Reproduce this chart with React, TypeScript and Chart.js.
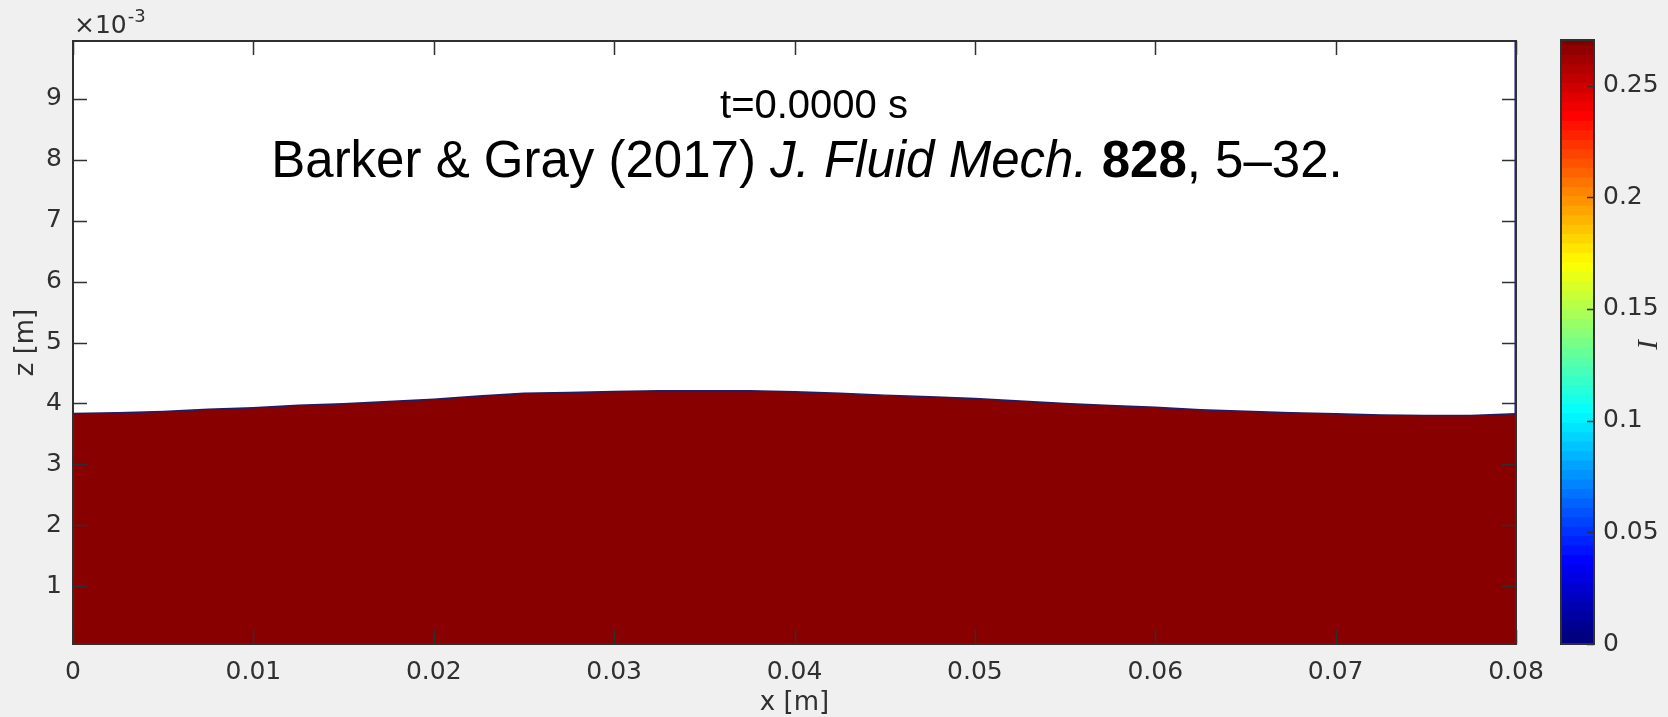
import React, { useEffect, useRef } from 'react';
import { Chart, registerables } from 'chart.js';

Chart.register(...registerables);

// Free-surface height z(x) of the flowing layer at t = 0
const SURFACE_X = [
  0, 0.0025, 0.005, 0.0075, 0.01, 0.0125, 0.015, 0.0175, 0.02, 0.0225, 0.025,
  0.0275, 0.03, 0.0325, 0.035, 0.0375, 0.04, 0.0425, 0.045, 0.0475, 0.05,
  0.0525, 0.055, 0.0575, 0.06, 0.0625, 0.065, 0.0675, 0.07, 0.0725, 0.075,
  0.0775, 0.08,
];
const SURFACE_Z = [
  0.003835, 0.003845, 0.003868, 0.003906, 0.00393, 0.00397, 0.003995, 0.00403,
  0.00407, 0.00412, 0.004165, 0.00418, 0.004196, 0.004206, 0.004206, 0.004206,
  0.00419, 0.004166, 0.004136, 0.004108, 0.004082, 0.00404, 0.004, 0.003965,
  0.003935, 0.003895, 0.00387, 0.003845, 0.00383, 0.00381, 0.0038, 0.0038,
  0.00383,
];

const X_MIN = 0;
const X_MAX = 0.08;
const Z_MIN = 0.00005;
const Z_MAX = 0.00995;

const X_TICKS = [0, 0.01, 0.02, 0.03, 0.04, 0.05, 0.06, 0.07, 0.08];
const X_TICK_LABELS = ['0', '0.01', '0.02', '0.03', '0.04', '0.05', '0.06', '0.07', '0.08'];
const Z_TICKS = [0.001, 0.002, 0.003, 0.004, 0.005, 0.006, 0.007, 0.008, 0.009];
const Z_TICK_LABELS = ['1', '2', '3', '4', '5', '6', '7', '8', '9'];

// Inertial number colour scale
const I_MIN = 0;
const I_MAX = 0.2704;
const I_TICKS = [0, 0.05, 0.1, 0.15, 0.2, 0.25];
const I_TICK_LABELS = ['0', '0.05', '0.1', '0.15', '0.2', '0.25'];
const COLOR_LEVELS = 64;

const TIME_LABEL = 't=0.0000 s';
const CITATION_PARTS = [
  { text: 'Barker & Gray (2017) ', style: '' },
  { text: 'J. Fluid Mech.', style: 'italic ' },
  { text: ' ', style: '' },
  { text: '828', style: 'bold ' },
  { text: ', 5\u201332.', style: '' },
];

const AXIS_COLOR = '#303030';
const FLOW_COLOR = '#880000';
const WALL_COLOR = '#14147a';
const SURFACE_LINE = '#1e1e66';
const TICK_FONT = { family: '"DejaVu Sans"', size: 25 };
const TITLE_FAMILY = '"Liberation Sans"';

function jet(t: number): string {
  const c = (v: number) => Math.round(255 * Math.max(0, Math.min(1, v)));
  return `rgb(${c(1.5 - Math.abs(4 * t - 3))},${c(1.5 - Math.abs(4 * t - 2))},${c(1.5 - Math.abs(4 * t - 1))})`;
}

const mainDecor = {
  id: 'mainDecor',
  beforeDatasetsDraw(chart: any) {
    const { ctx, chartArea: a } = chart;
    ctx.save();
    ctx.fillStyle = '#ffffff';
    ctx.fillRect(a.left, a.top, a.right - a.left, a.bottom - a.top);
    ctx.restore();
  },
  afterDraw(chart: any) {
    const { ctx, chartArea: a, scales } = chart;
    const tick = 14;
    ctx.save();
    ctx.strokeStyle = AXIS_COLOR;
    ctx.lineWidth = 1.5;
    ctx.beginPath();
    X_TICKS.forEach((v) => {
      const px = Math.round(scales.x.getPixelForValue(v)) + 0.5;
      ctx.moveTo(px, a.bottom);
      ctx.lineTo(px, a.bottom - tick);
      ctx.moveTo(px, a.top);
      ctx.lineTo(px, a.top + tick);
    });
    Z_TICKS.forEach((v) => {
      const py = Math.round(scales.y.getPixelForValue(v)) + 0.5;
      ctx.moveTo(a.left, py);
      ctx.lineTo(a.left + tick, py);
      ctx.moveTo(a.right, py);
      ctx.lineTo(a.right - tick, py);
    });
    ctx.stroke();
    ctx.lineWidth = 2;
    ctx.strokeRect(a.left, a.top, a.right - a.left, a.bottom - a.top);

    // exponent of the z axis
    ctx.fillStyle = AXIS_COLOR;
    ctx.textBaseline = 'alphabetic';
    ctx.textAlign = 'left';
    ctx.font = '25px "DejaVu Sans"';
    const base = '\u00d710';
    ctx.fillText(base, a.left + 1, 33);
    const bw = ctx.measureText(base).width;
    ctx.font = '18px "DejaVu Sans"';
    ctx.fillText('-3', a.left + 1 + bw + 1, 22);

    // axis titles
    ctx.font = '26px "DejaVu Sans"';
    ctx.textAlign = 'center';
    ctx.textBaseline = 'middle';
    ctx.fillText('x [m]', (a.left + a.right) / 2, 703);
    ctx.save();
    ctx.translate(26, (a.top + a.bottom) / 2);
    ctx.rotate(-Math.PI / 2);
    ctx.fillText('z [m]', 0, 0);
    ctx.restore();

    // annotations
    ctx.fillStyle = '#000000';
    ctx.textBaseline = 'alphabetic';
    ctx.font = `40px ${TITLE_FAMILY}`;
    ctx.textAlign = 'center';
    ctx.fillText(TIME_LABEL, 814, 118);

    const size = 51;
    ctx.textAlign = 'left';
    let total = 0;
    CITATION_PARTS.forEach((p) => {
      ctx.font = `${p.style}${size}px ${TITLE_FAMILY}`;
      total += ctx.measureText(p.text).width;
    });
    let cx = 807 - total / 2;
    CITATION_PARTS.forEach((p) => {
      ctx.font = `${p.style}${size}px ${TITLE_FAMILY}`;
      ctx.fillText(p.text, cx, 177);
      cx += ctx.measureText(p.text).width;
    });
    ctx.restore();
  },
};

const barDecor = {
  id: 'barDecor',
  afterDraw(chart: any) {
    const { ctx, chartArea: a, scales } = chart;
    ctx.save();
    ctx.strokeStyle = AXIS_COLOR;
    ctx.lineWidth = 1.5;
    ctx.beginPath();
    I_TICKS.forEach((v) => {
      const py = Math.round(scales.y.getPixelForValue(v)) + 0.5;
      ctx.moveTo(a.right, py);
      ctx.lineTo(a.right - 7, py);
    });
    ctx.stroke();
    ctx.lineWidth = 2;
    ctx.strokeRect(a.left, a.top, a.right - a.left, a.bottom - a.top);

    ctx.fillStyle = AXIS_COLOR;
    ctx.font = 'italic 29px "Liberation Serif"';
    ctx.textAlign = 'center';
    ctx.textBaseline = 'middle';
    ctx.translate(109, (a.top + a.bottom) / 2 + 3);
    ctx.rotate(-Math.PI / 2);
    ctx.fillText('I', 0, 0);
    ctx.restore();
  },
};

export default function App() {
  const mainRef = useRef<HTMLCanvasElement>(null);
  const barRef = useRef<HTMLCanvasElement>(null);

  useEffect(() => {
    const surface = SURFACE_X.map((x, i) => ({ x, y: SURFACE_Z[i] }));
    const wall = [
      { x: X_MAX, y: Z_MAX },
      { x: X_MAX, y: SURFACE_Z[SURFACE_Z.length - 1] },
    ];

    const main = new Chart(mainRef.current as HTMLCanvasElement, {
      type: 'line',
      data: {
        datasets: [
          {
            data: surface,
            borderColor: SURFACE_LINE,
            borderWidth: 1.5,
            backgroundColor: FLOW_COLOR,
            fill: 'start',
            pointRadius: 0,
            tension: 0,
          },
          {
            data: wall,
            borderColor: WALL_COLOR,
            borderWidth: 3,
            pointRadius: 0,
            fill: false,
          },
        ],
      },
      options: {
        responsive: false,
        animation: false,
        events: [],
        layout: { padding: { left: 0, right: 152, top: 41, bottom: 0 } },
        plugins: { legend: { display: false }, tooltip: { enabled: false } },
        scales: {
          x: {
            type: 'linear',
            min: X_MIN,
            max: X_MAX,
            grid: { display: false, drawTicks: false },
            border: { display: false },
            ticks: {
              font: TICK_FONT,
              color: AXIS_COLOR,
              padding: 13,
              maxRotation: 0,
              autoSkip: false,
              callback: (_v: any, i: number) => X_TICK_LABELS[i],
            },
            afterBuildTicks: (s: any) => {
              s.ticks = X_TICKS.map((value) => ({ value }));
            },
            afterFit: (s: any) => {
              s.height = 73;
            },
          },
          y: {
            type: 'linear',
            min: Z_MIN,
            max: Z_MAX,
            grid: { display: false, drawTicks: false },
            border: { display: false },
            ticks: {
              font: TICK_FONT,
              color: AXIS_COLOR,
              padding: 11,
              autoSkip: false,
              callback: (_v: any, i: number) => Z_TICK_LABELS[i],
            },
            afterBuildTicks: (s: any) => {
              s.ticks = Z_TICKS.map((value) => ({ value }));
            },
            afterFit: (s: any) => {
              s.width = 73;
            },
          },
        },
      },
      plugins: [mainDecor],
    } as any);

    const step = (I_MAX - I_MIN) / COLOR_LEVELS;
    const levels = Array.from({ length: COLOR_LEVELS }, (_, k) => k);
    const bar = new Chart(barRef.current as HTMLCanvasElement, {
      type: 'bar',
      data: {
        labels: ['I'],
        datasets: levels.map((k) => ({
          data: [[I_MIN + k * step, I_MIN + (k + 1.4) * step]],
          backgroundColor: jet(k / (COLOR_LEVELS - 1)),
          borderWidth: 0,
          barPercentage: 1,
          categoryPercentage: 1,
          grouped: false,
        })),
      },
      options: {
        responsive: false,
        animation: false,
        events: [],
        layout: { padding: { left: 21, right: 0, top: 40, bottom: 73 } },
        plugins: { legend: { display: false }, tooltip: { enabled: false } },
        scales: {
          x: { display: false },
          y: {
            position: 'right',
            min: I_MIN,
            max: I_MAX,
            grid: { display: false, drawTicks: false },
            border: { display: false },
            ticks: {
              font: TICK_FONT,
              color: AXIS_COLOR,
              padding: 9,
              autoSkip: false,
              callback: (_v: any, i: number) => I_TICK_LABELS[i],
            },
            afterBuildTicks: (s: any) => {
              s.ticks = I_TICKS.map((value) => ({ value }));
            },
            afterFit: (s: any) => {
              s.width = 74;
            },
          },
        },
      },
      plugins: [barDecor],
    } as any);

    return () => {
      main.destroy();
      bar.destroy();
    };
  }, []);

  return (
    <div
      style={{
        position: 'fixed',
        left: 0,
        top: 0,
        width: 1668,
        height: 717,
        background: '#f0f0f0',
        overflow: 'hidden',
      }}
    >
      <canvas
        ref={mainRef}
        width={1668}
        height={717}
        style={{ position: 'absolute', left: 0, top: 0, width: 1668, height: 717 }}
      />
      <canvas
        ref={barRef}
        width={128}
        height={717}
        style={{ position: 'absolute', left: 1540, top: 0, width: 128, height: 717 }}
      />
    </div>
  );
}
